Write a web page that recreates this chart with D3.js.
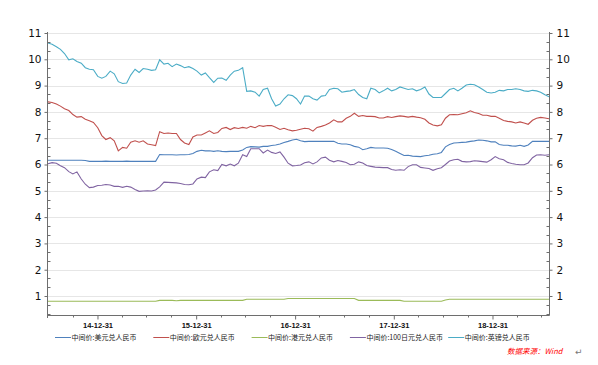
<!DOCTYPE html>
<html><head><meta charset="utf-8">
<script src="https://cdn.jsdelivr.net/npm/d3@7"></script>
<style>body{margin:0;background:#fff;}svg{display:block}</style>
</head><body>
<svg id="c" width="598" height="365"></svg>
<script>
// ---- data (semi-monthly samples, 2014-07-01 .. 2019-07-28) ----
const startDate = new Date(2014, 6, 1);
const endDate = new Date(2019, 6, 28);

const usd = [6.16,6.16,6.16,6.16,6.16,6.16,6.16,6.16,6.16,6.15,
  6.12,6.12,6.12,6.12,6.13,6.12,6.12,6.12,6.12,6.13,6.12,6.12,6.12,6.12,6.12,6.12,6.12,
  6.38,6.37,6.37,6.37,6.36,6.37,6.37,6.38,6.42,6.50,6.54,6.52,6.52,6.50,6.52,
  6.50,6.49,6.50,6.50,6.50,6.55,6.65,6.68,6.67,6.66,6.69,6.69,6.72,6.74,6.78,6.84,6.88,6.93,6.96,
  6.90,6.87,6.88,6.88,6.88,6.88,6.88,6.88,6.88,6.81,6.78,6.78,6.75,6.69,6.66,6.56,6.60,6.65,6.63,6.63,6.63,6.62,
  6.57,6.50,6.42,6.34,6.35,6.32,6.31,6.30,6.33,6.35,6.39,6.41,6.46,6.67,6.76,6.82,6.83,6.84,6.85,6.88,
  6.90,6.93,6.92,6.90,6.86,6.86,6.76,6.73,6.73,6.71,6.70,6.73,6.69,6.74,6.88,6.88,6.88,6.88,6.88];

const eur = [8.38,8.36,8.30,8.22,8.12,8.05,7.90,7.80,7.82,7.72,7.66,7.60,7.40,7.10,6.95,7.02,6.90,6.52,6.65,6.62,
  6.85,6.90,6.85,6.90,6.78,6.75,6.72,7.25,7.18,7.20,7.18,7.18,6.95,6.82,6.76,7.05,7.12,7.12,7.20,7.28,7.18,7.22,
  7.37,7.41,7.33,7.40,7.37,7.41,7.38,7.45,7.40,7.48,7.45,7.48,7.48,7.42,7.33,7.38,7.32,7.28,7.30,7.34,
  7.38,7.36,7.27,7.41,7.45,7.50,7.58,7.70,7.62,7.62,7.76,7.83,7.95,7.83,7.86,7.83,7.83,7.82,7.77,7.77,7.82,
  7.79,7.82,7.85,7.83,7.80,7.83,7.80,7.78,7.72,7.58,7.50,7.47,7.51,7.76,7.89,7.90,7.89,7.93,7.97,8.04,
  7.98,7.94,7.87,7.87,7.83,7.83,7.76,7.67,7.64,7.62,7.58,7.62,7.58,7.53,7.68,7.76,7.79,7.77,7.74];

const hkd = [0.80,0.80,0.80,0.80,0.80,0.80,0.80,0.80,0.80,0.80,0.80,0.80,0.80,0.80,0.80,0.80,0.80,0.80,0.80,0.80,
  0.80,0.80,0.80,0.80,0.80,0.80,0.80,
  0.835,0.835,0.835,0.835,0.82,0.835,0.835,0.835,0.835,0.835,0.835,0.835,0.835,0.835,0.835,0.835,0.835,0.835,0.835,0.835,0.835,
  0.875,0.875,0.875,0.875,0.875,0.875,0.875,0.875,0.875,0.875,
  0.905,0.905,0.905,0.905,0.905,0.905,0.905,0.905,0.905,0.905,0.905,0.905,0.905,0.905,0.905,0.905,0.905,
  0.835,0.835,0.835,0.835,0.835,0.835,0.835,0.835,0.835,0.835,0.835,
  0.80,0.80,0.80,0.80,0.80,0.80,0.80,0.80,0.80,0.80,
  0.85,
  0.875,0.875,0.875,0.875,0.875,0.875,0.875,0.875,0.875,0.875,0.875,0.875,0.875,0.875,0.875,0.875,0.875,0.875,0.875,0.875,
  0.875,0.875,0.875,0.875,0.875];

const jpy = [6.03,6.07,6.05,5.95,5.88,5.73,5.64,5.72,5.45,5.25,5.12,5.14,5.20,5.21,5.24,5.22,5.17,5.17,5.13,5.17,
  5.14,5.05,4.98,4.99,5.00,4.99,5.03,5.15,5.33,5.32,5.31,5.30,5.28,5.24,5.23,5.26,5.45,5.52,5.50,5.72,5.80,5.77,
  6.00,5.95,6.02,5.95,6.05,6.37,6.30,6.60,6.60,6.60,6.44,6.55,6.46,6.42,6.48,6.28,6.05,5.95,5.96,5.98,
  6.07,6.10,6.02,6.10,6.25,6.28,6.16,6.10,6.15,6.12,6.08,5.99,6.01,6.10,6.06,5.96,5.93,5.90,5.89,5.88,5.88,
  5.81,5.78,5.80,5.78,5.92,5.99,5.99,5.89,5.87,5.85,5.78,5.84,5.88,6.00,6.13,6.18,6.20,6.12,6.10,6.11,
  6.14,6.13,6.11,6.09,6.18,6.30,6.22,6.18,6.08,6.04,6.01,5.99,5.99,6.06,6.26,6.36,6.37,6.35,6.37];

const gbp = [10.62,10.57,10.48,10.38,10.22,9.98,10.02,9.92,9.85,9.68,9.62,9.60,9.35,9.28,9.35,9.55,9.45,9.15,9.08,9.10,
  9.40,9.62,9.50,9.65,9.62,9.58,9.60,9.98,9.82,9.85,9.72,9.82,9.76,9.68,9.72,9.65,9.55,9.40,9.48,9.30,9.12,9.28,
  9.29,9.20,9.40,9.55,9.58,9.68,8.78,8.80,8.75,8.60,8.85,8.90,8.50,8.22,8.30,8.50,8.65,8.62,8.50,8.30,
  8.60,8.60,8.50,8.45,8.60,8.62,8.85,8.90,8.88,8.75,8.78,8.80,8.85,8.66,8.55,8.50,8.90,8.85,8.72,8.80,8.90,
  8.80,8.85,8.95,8.90,8.85,8.88,8.80,8.85,8.95,8.68,8.55,8.55,8.55,8.70,8.85,8.90,8.80,8.90,9.02,9.05,
  9.03,8.95,8.85,8.75,8.72,8.75,8.82,8.80,8.85,8.85,8.88,8.85,8.80,8.78,8.82,8.80,8.75,8.65,8.58];

const seriesNames = ["中间价:美元兑人民币","中间价:欧元兑人民币","中间价:港元兑人民币","中间价:100日元兑人民币","中间价:英镑兑人民币"];
const seriesValues = [usd, eur, hkd, jpy, gbp];
const seriesColors = ["#4f81bd","#c0504d","#9bbb59","#8064a2","#4bacc6"];

const yTickValues = [1,2,3,4,5,6,7,8,9,10,11];
const xTickDates = ["2014-12-31","2015-12-31","2016-12-31","2017-12-31","2018-12-31"];
const xTickLabels = ["14-12-31","15-12-31","16-12-31","17-12-31","18-12-31"];
const sourceText = "数据来源：Wind";

// ---- chart ----
const svg = d3.select("#c");
const L = 48, R = 549, T = 33, B = 315;
const nPts = usd.length;
const totalDays = d3.timeDay.count(startDate, endDate);
const dates = d3.range(nPts).map(i => d3.timeDay.offset(startDate, Math.round(i * totalDays / (nPts - 1))));
const parse = d3.timeParse("%Y-%m-%d");

const x = d3.scaleTime().domain([startDate, endDate]).range([L, R]);
const y = d3.scaleLinear().domain([0.278, 11]).range([B, T]);

svg.append("rect").attr("width",598).attr("height",365).attr("fill","#fff");

// gridlines
svg.append("g").selectAll("line").data(yTickValues).join("line")
  .attr("x1", L).attr("x2", R)
  .attr("y1", d => Math.round(y(d)) + 0.5).attr("y2", d => Math.round(y(d)) + 0.5)
  .attr("stroke", "#e6e6e6").attr("stroke-width", 1);

// series
const line = d3.line().x((d,i) => x(dates[i])).y(d => y(d));
seriesValues.forEach((vals, k) => {
  svg.append("path").datum(vals).attr("d", line)
    .attr("fill","none").attr("stroke", seriesColors[k]).attr("stroke-width", 1.1)
    .attr("stroke-linejoin","miter");
});

const axisColor = "#6e6e6e";
// left axis
const leftAxis = d3.axisLeft(y).tickValues(yTickValues).tickSize(3).tickPadding(3).tickFormat(d3.format("d"));
const gl = svg.append("g").attr("transform", `translate(${L-0.5},0)`).call(leftAxis);
const rightAxis = d3.axisRight(y).tickValues(yTickValues).tickSize(3).tickPadding(4).tickFormat(d3.format("d"));
const gr = svg.append("g").attr("transform", `translate(${R+0.5},0)`).call(rightAxis);
[gl, gr].forEach(g => {
  g.select(".domain").remove();
  g.selectAll(".tick line").attr("stroke", axisColor);
  g.selectAll(".tick text").attr("font-family","DejaVu Sans, Verdana, sans-serif").attr("font-size","10.5px").attr("fill","#111");
});
// minor y ticks (thirds), inward
const minorY = d3.range(1, 34).map(k => k/3).filter(v => Math.abs(v - Math.round(v)) > 0.01 && v <= 11);
svg.append("g").selectAll("line").data(minorY).join("line")
  .attr("x1", L-0.5).attr("x2", L+2.5)
  .attr("y1", d => Math.round(y(d))+0.5).attr("y2", d => Math.round(y(d))+0.5)
  .attr("stroke", axisColor);
svg.append("g").selectAll("line").data(minorY).join("line")
  .attr("x1", R+0.5).attr("x2", R-2.5)
  .attr("y1", d => Math.round(y(d))+0.5).attr("y2", d => Math.round(y(d))+0.5)
  .attr("stroke", axisColor);
// axis lines
svg.append("line").attr("x1", L-0.5).attr("x2", L-0.5).attr("y1", T-1).attr("y2", B+0.5).attr("stroke", axisColor);
svg.append("line").attr("x1", R+0.5).attr("x2", R+0.5).attr("y1", T-1).attr("y2", B+0.5).attr("stroke", axisColor);
svg.append("line").attr("x1", L-0.5).attr("x2", R+0.5).attr("y1", B+0.5).attr("y2", B+0.5).attr("stroke", axisColor);

// x axis
const xMajor = xTickDates.map(parse);
const xAxis = d3.axisBottom(x).tickValues(xMajor).tickSize(4).tickPadding(3)
  .tickFormat((d,i) => xTickLabels[i]);
const gx = svg.append("g").attr("transform", `translate(0,${B+0.5})`).call(xAxis);
gx.select(".domain").remove();
gx.selectAll(".tick line").attr("stroke", axisColor);
gx.selectAll(".tick text").attr("font-family","Liberation Sans, Arial, sans-serif")
  .attr("font-weight","bold").attr("font-size","7.5px").attr("fill","#111");
// minor x ticks (quarter ends)
const minorX = d3.timeMonth.every(3).range(new Date(2014,9,1), endDate).map(d => d3.timeDay.offset(d, -1))
  .filter(d => d.getMonth() !== 11);
svg.append("g").selectAll("line").data(minorX).join("line")
  .attr("x1", d => Math.round(x(d))+0.5).attr("x2", d => Math.round(x(d))+0.5)
  .attr("y1", B+0.5).attr("y2", B+2.5).attr("stroke", axisColor);
svg.append("line").attr("x1", L-0.5).attr("x2", L-0.5).attr("y1", B).attr("y2", B+3).attr("stroke", axisColor);

// legend
const lg = svg.append("g");
seriesNames.forEach((name, k) => {
  const lx = 55 + k * 98.3;
  lg.append("line").attr("x1", lx).attr("x2", lx + 16).attr("y1", 337.5).attr("y2", 337.5)
    .attr("stroke", seriesColors[k]).attr("stroke-width", 1);
  lg.append("text").attr("x", lx + 16.5).attr("y", 340.2).text(name)
    .attr("font-family","Noto Sans CJK SC, sans-serif").attr("font-size","7px").attr("fill","#222");
});

// source
svg.append("text").attr("x", 507).attr("y", 353.5).text(sourceText)
  .attr("font-family","Noto Sans CJK SC, sans-serif").attr("font-size","7.5px")
  .attr("font-style","italic").attr("fill","#ff0000");
svg.append("text").attr("x", 575).attr("y", 355).text("↵")
  .attr("font-family","DejaVu Sans, sans-serif").attr("font-size","9px").attr("fill","#777");
</script>
</body></html>
